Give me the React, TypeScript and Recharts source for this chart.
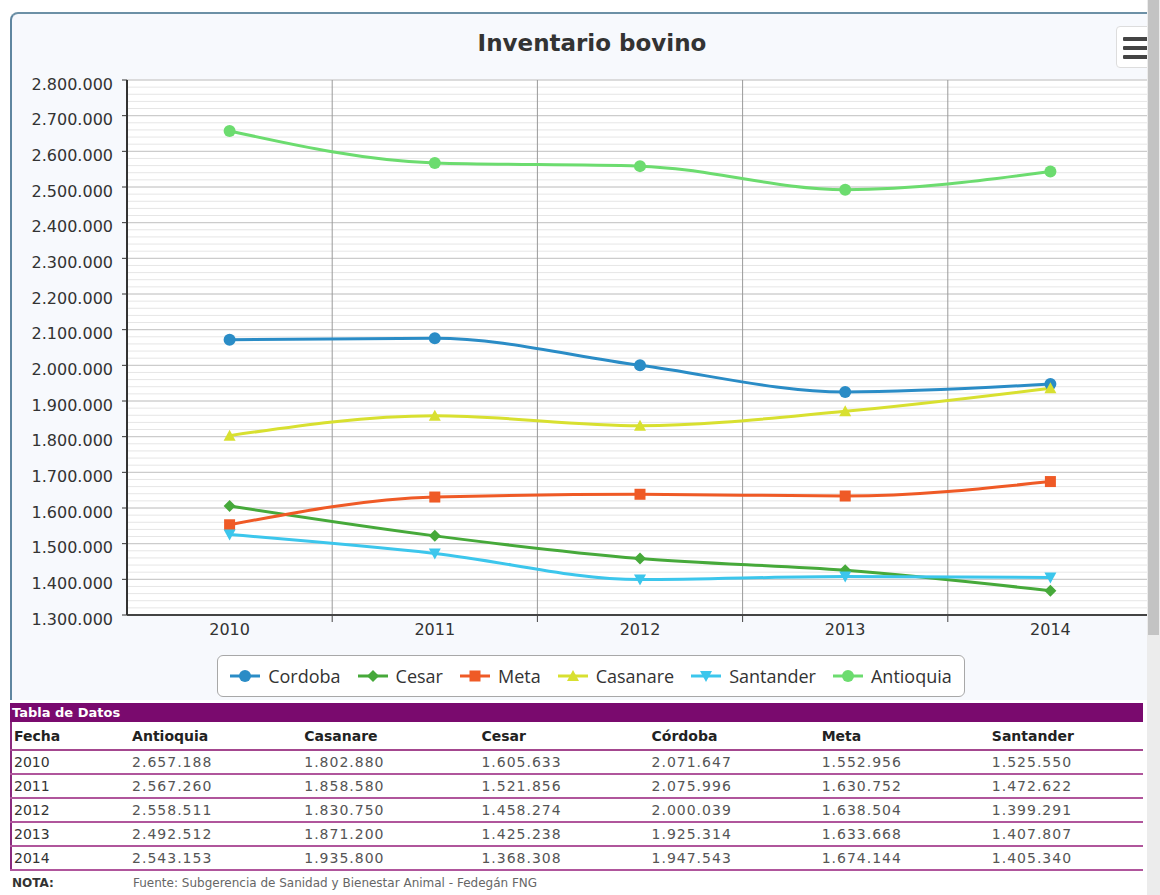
import { LineChart, Line, XAxis, YAxis, CartesianGrid, Legend } from "recharts";

// años y valores (inventario bovino por departamento)
const years = [2010, 2011, 2012, 2013, 2014];
const cordoba = [2071647, 2075996, 2000039, 1925314, 1947543];
const cesar = [1605633, 1521856, 1458274, 1425238, 1368308];
const meta = [1552956, 1630752, 1638504, 1633668, 1674144];
const casanare = [1802880, 1858580, 1830750, 1871200, 1935800];
const santander = [1525550, 1472622, 1399291, 1407807, 1405340];
const antioquia = [2657188, 2567260, 2558511, 2492512, 2543153];

const yTicks = [
  1300000, 1400000, 1500000, 1600000, 1700000, 1800000, 1900000, 2000000,
  2100000, 2200000, 2300000, 2400000, 2500000, 2600000, 2700000, 2800000,
];
const minorStep = 20000;
const minorTicks = Array.from(
  { length: (2800000 - 1300000) / minorStep + 1 },
  (_, i) => 1300000 + i * minorStep
);
const xDomain = [2009.5, 2014.5];
const boundaryTicks = [2010.5, 2011.5, 2012.5, 2013.5];

type Shape = "circle" | "diamond" | "square" | "triangle" | "triangle-down";

const series: { key: string; label: string; values: number[]; color: string; shape: Shape }[] = [
  { key: "cordoba", label: "Cordoba", values: cordoba, color: "#2a8cc6", shape: "circle" },
  { key: "cesar", label: "Cesar", values: cesar, color: "#46a93a", shape: "diamond" },
  { key: "meta", label: "Meta", values: meta, color: "#ef5a26", shape: "square" },
  { key: "casanare", label: "Casanare", values: casanare, color: "#d8e030", shape: "triangle" },
  { key: "santander", label: "Santander", values: santander, color: "#3cc6ec", shape: "triangle-down" },
  { key: "antioquia", label: "Antioquia", values: antioquia, color: "#6cdc6f", shape: "circle" },
];

// columnas de la tabla (orden alfabético como en el original)
const tableCols = [
  { label: "Antioquia", values: antioquia },
  { label: "Casanare", values: casanare },
  { label: "Cesar", values: cesar },
  { label: "Córdoba", values: cordoba },
  { label: "Meta", values: meta },
  { label: "Santander", values: santander },
];
const colWidths = [121, 172, 177, 170, 170, 170, 151];

const data = years.map((year, i) => {
  const row: Record<string, number> = { year };
  series.forEach((s) => (row[s.key] = s.values[i]));
  return row;
});

const fmt = (v: number) => String(v).replace(/\B(?=(\d{3})+(?!\d))/g, ".");

// líneas verticales en los límites entre categorías
const boundaryLines = ({ xAxis, offset }: any) => {
  if (xAxis && typeof xAxis.scale === "function") return boundaryTicks.map((v) => xAxis.scale(v));
  return boundaryTicks.map(
    (v) => offset.left + ((v - xDomain[0]) / (xDomain[1] - xDomain[0])) * offset.width
  );
};

function Marker({ cx, cy, color, shape, r = 6 }: { cx: number; cy: number; color: string; shape: Shape; r?: number }) {
  if (cx == null || cy == null) return null;
  switch (shape) {
    case "diamond":
      return <path d={`M${cx},${cy - r}L${cx + r},${cy}L${cx},${cy + r}L${cx - r},${cy}Z`} fill={color} />;
    case "square":
      return <rect x={cx - r + 0.5} y={cy - r + 0.5} width={2 * r - 1} height={2 * r - 1} fill={color} />;
    case "triangle":
      return <path d={`M${cx},${cy - r}L${cx + r},${cy + r - 1}L${cx - r},${cy + r - 1}Z`} fill={color} />;
    case "triangle-down":
      return <path d={`M${cx - r},${cy - r + 1}L${cx + r},${cy - r + 1}L${cx},${cy + r}Z`} fill={color} />;
    default:
      return <circle cx={cx} cy={cy} r={r} fill={color} />;
  }
}

function LegendBox() {
  return (
    <div style={{ display: "flex", justifyContent: "center", paddingLeft: 29, height: 48, boxSizing: "border-box", paddingTop: 3 }}>
      <div
        style={{
          display: "flex",
          alignItems: "center",
          height: 42,
          boxSizing: "border-box",
          border: "1.5px solid #a8a8a8",
          borderRadius: 6,
          background: "#fff",
          padding: "0 12px",
          gap: 17,
          fontFamily: "'Open Sans', sans-serif",
          fontSize: 18,
          color: "#333",
        }}
      >
        {series.map((s) => (
          <div key={s.key} style={{ display: "flex", alignItems: "center", gap: 8 }}>
            <svg width={30} height={16}>
              <line x1={0} y1={8} x2={30} y2={8} stroke={s.color} strokeWidth={3} />
              <Marker cx={15} cy={8} color={s.color} shape={s.shape} />
            </svg>
            <span>{s.label}</span>
          </div>
        ))}
      </div>
    </div>
  );
}

const axisFont = { fill: "#333", fontSize: 16, fontFamily: "'DejaVu Sans', sans-serif" };

export default function App() {
  return (
    <div style={{ position: "absolute", left: 0, top: 0, width: 1160, height: 895, background: "#fff", overflow: "hidden" }}>
      {/* panel del gráfico */}
      <div
        style={{
          position: "absolute",
          left: 10,
          top: 12,
          width: 1160,
          height: 688,
          borderLeft: "2px solid #5f86a0",
          borderTop: "2px solid #6c90a6",
          borderTopLeftRadius: 8,
          background: "#f7f9fd",
          boxSizing: "border-box",
        }}
      />
      <div
        style={{
          position: "absolute",
          left: 0,
          width: 1184,
          top: 30,
          textAlign: "center",
          fontFamily: "'DejaVu Sans', sans-serif",
          fontWeight: "bold",
          fontSize: 23,
          color: "#333",
        }}
      >
        Inventario bovino
      </div>
      {/* botón menú */}
      <div
        style={{
          position: "absolute",
          left: 1116,
          top: 26,
          width: 40,
          height: 40,
          border: "1px solid #ddd",
          borderRadius: 4,
          background: "#fff",
        }}
      >
        {[12, 21, 30].map((t) => (
          <div key={t} style={{ position: "absolute", left: 6, top: t - 2, width: 26, height: 4, background: "#444", borderRadius: 1 }} />
        ))}
      </div>

      <div style={{ position: "absolute", left: 0, top: 0 }}>
        <LineChart width={1153} height={700} data={data} margin={{ top: 80, right: 0, bottom: 0, left: 0 }}>
          <CartesianGrid xAxisId="lab" yAxisId="minor" vertical={false} stroke="#e6e6e6" fill="#fff" />
          <CartesianGrid xAxisId="lab" yAxisId="main" vertical={false} stroke="#c6c6c6" />
          <CartesianGrid
            xAxisId="lab"
            yAxisId="main"
            horizontal={false}
            stroke="#9a9a9a"
            verticalCoordinatesGenerator={boundaryLines}
          />
          <XAxis
            xAxisId="grid"
            dataKey="year"
            type="number"
            domain={xDomain}
            allowDataOverflow
            ticks={boundaryTicks}
            interval={0}
            tick={() => <g />}
            height={8}
            tickSize={7}
            axisLine={{ stroke: "#444", strokeWidth: 2 }}
            tickLine={{ stroke: "#444" }}
          />
          <XAxis
            xAxisId="lab"
            dataKey="year"
            type="number"
            domain={xDomain}
            allowDataOverflow
            ticks={years}
            interval={0}
            height={29}
            tickSize={0}
            tickMargin={1}
            axisLine={false}
            tickLine={false}
            tick={axisFont}
          />
          <YAxis
            yAxisId="main"
            domain={[1300000, 2800000]}
            allowDataOverflow
            ticks={yTicks}
            interval={0}
            width={127}
            tickSize={5}
            tickMargin={9}
            tickFormatter={fmt}
            axisLine={{ stroke: "#333", strokeWidth: 2 }}
            tickLine={{ stroke: "#333" }}
            tick={{ ...axisFont, dy: 4 }}
          />
          <YAxis yAxisId="minor" hide domain={[1300000, 2800000]} allowDataOverflow ticks={minorTicks} interval={0} />
          <Legend verticalAlign="bottom" content={() => <LegendBox />} />
          {series.map((s) => (
            <Line
              key={s.key}
              xAxisId="lab"
              yAxisId="main"
              type="monotone"
              dataKey={s.key}
              name={s.label}
              stroke={s.color}
              strokeWidth={3}
              isAnimationActive={false}
              dot={(p: any) => <Marker key={`${s.key}-${p.index}`} cx={p.cx} cy={p.cy} color={s.color} shape={s.shape} />}
              activeDot={false}
            />
          ))}
        </LineChart>
      </div>

      {/* tabla de datos */}
      <div style={{ position: "absolute", left: 10, top: 703, width: 1133, fontFamily: "'DejaVu Sans', sans-serif" }}>
        <div style={{ background: "#7a0a6e", color: "#fff", fontWeight: "bold", fontSize: 13, height: 19, lineHeight: "19px", paddingLeft: 2 }}>
          Tabla de Datos
        </div>
        <table style={{ borderCollapse: "collapse", tableLayout: "fixed", width: 1133, borderLeft: "2px solid #8a2a7e", fontSize: 14 }}>
          <colgroup>
            {colWidths.map((w, i) => (
              <col key={i} style={{ width: w }} />
            ))}
          </colgroup>
          <thead>
            <tr style={{ height: 28, borderBottom: "2px solid #a4488f" }}>
              <th style={{ textAlign: "left", padding: "0 2px", color: "#222" }}>Fecha</th>
              {tableCols.map((c) => (
                <th key={c.label} style={{ textAlign: "left", padding: 0, color: "#222" }}>
                  {c.label}
                </th>
              ))}
            </tr>
          </thead>
          <tbody>
            {years.map((y, i) => (
              <tr key={y} style={{ height: 24, borderBottom: "2px solid #b0569c" }}>
                <td style={{ padding: "0 2px", color: "#333" }}>{y}</td>
                {tableCols.map((c) => (
                  <td key={c.label} style={{ padding: 0, color: "#555", letterSpacing: 1 }}>
                    {fmt(c.values[i])}
                  </td>
                ))}
              </tr>
            ))}
          </tbody>
        </table>
        <div style={{ position: "relative", height: 24, fontSize: 12 }}>
          <span style={{ position: "absolute", left: 2, top: 5, fontWeight: "bold", color: "#333" }}>NOTA:</span>
          <span style={{ position: "absolute", left: 123, top: 5, color: "#666" }}>
            Fuente: Subgerencia de Sanidad y Bienestar Animal - Fedegán FNG
          </span>
        </div>
      </div>

      {/* barra de desplazamiento */}
      <div style={{ position: "absolute", left: 1147, top: 0, width: 13, height: 895, background: "#ececec" }} />
      <div style={{ position: "absolute", left: 1148, top: 0, width: 11, height: 635, background: "#c3c3c3" }} />
    </div>
  );
}
